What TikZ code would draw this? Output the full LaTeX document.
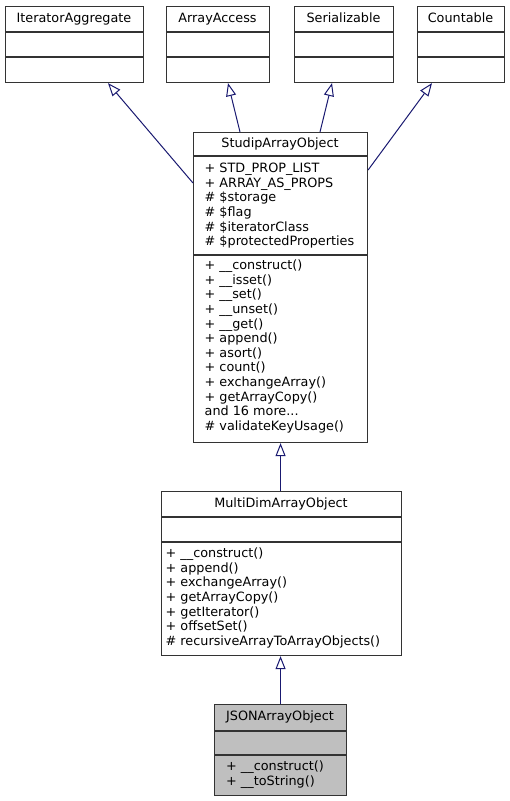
\documentclass[tikz,border=0pt]{standalone}
\usepackage{fontspec}
\setmainfont{DejaVu Sans}
\usetikzlibrary{arrows.meta,calc}
\definecolor{edgeblue}{HTML}{191970}
\definecolor{boxline}{HTML}{333333}
\definecolor{leafgray}{HTML}{BFBFBF}
\newcommand\andmoretext{and 16 more...}
\begin{document}
\begin{tikzpicture}[x=1pt,y=-1pt,
  box/.style={draw=boxline, line width=1.1pt, fill=white, inner sep=0, anchor=north west},
  div/.style={draw=boxline, line width=1.1pt},
  lbl/.style={font=\fontsize{12.8}{14.6}\selectfont, inner sep=0},
  mem/.style={lbl, anchor=mid west},
  ttl/.style={lbl, anchor=mid},
  inh/.style={draw=edgeblue, line width=1pt, -{Triangle[open, length=13pt, width=10pt, fill=white]}},
]
\useasboundingbox (0,0) rectangle (510,801);

% top interfaces
\node[box, minimum width=138pt, minimum height=76pt] (ia) at (5,6) {};
\draw[div] (5,32) -- (143,32) (5,57) -- (143,57);
\node[ttl] (iat) at (74,20) {IteratorAggregate};

\node[box, minimum width=103pt, minimum height=76pt] (aa) at (166,6) {};
\draw[div] (166,32) -- (269,32) (166,57) -- (269,57);
\node[ttl] (aat) at (217.5,20) {ArrayAccess};

\node[box, minimum width=99pt, minimum height=76pt] (se) at (294,6) {};
\draw[div] (294,32) -- (393,32) (294,57) -- (393,57);
\node[ttl] (set) at (343.5,20) {Serializable};

\node[box, minimum width=87pt, minimum height=76pt] (co) at (417,6) {};
\draw[div] (417,32) -- (504,32) (417,57) -- (504,57);
\node[ttl] (cot) at (460.5,20) {Countable};

% StudipArrayObject
\node[box, minimum width=174pt, minimum height=310pt] (sao) at (193,132) {};
\draw[div] (193,156) -- (367,156) (193,255) -- (367,255);
\node[ttl] (saot) at (280,145) {StudipArrayObject};
\foreach [count=\i from 0] \t in {{+ STD\_PROP\_LIST},{+ ARRAY\_AS\_PROPS},{\# \$storage},{\# \$flag},{\# \$iteratorClass},{\# \$protectedProperties}}
  \node[mem] (saoa\i) at (204.5,170+14.6*\i) {\t};
\foreach [count=\i from 0] \t in {{+ \_\_construct()},{+ \_\_isset()},{+ \_\_set()},{+ \_\_unset()},{+ \_\_get()},{+ append()},{+ asort()},{+ count()},{+ exchangeArray()},{+ getArrayCopy()},{\andmoretext},{\# validateKeyUsage()}}
  \node[mem] (saom\i) at (204.5,267+14.6*\i) {\t};

% MultiDimArrayObject
\node[box, minimum width=240pt, minimum height=164pt] (mdao) at (161,491) {};
\draw[div] (161,517) -- (401,517) (161,542) -- (401,542);
\node[ttl] (mdaot) at (281,505) {MultiDimArrayObject};
\foreach [count=\i from 0] \t in {{+ \_\_construct()},{+ append()},{+ exchangeArray()},{+ getArrayCopy()},{+ getIterator()},{+ offsetSet()},{\# recursiveArrayToArrayObjects()}}
  \node[mem] (mdaom\i) at (165.5,555+14.6*\i) {\t};

% JSONArrayObject
\node[box, fill=leafgray, minimum width=132pt, minimum height=91pt] (json) at (214,704) {};
\draw[div] (214,731) -- (346,731) (214,755) -- (346,755);
\node[ttl] (jsont) at (280,718) {JSONArrayObject};
\foreach [count=\i from 0] \t in {{+ \_\_construct()},{+ \_\_toString()}}
  \node[mem] (jsonm\i) at (226,768+14.6*\i) {\t};

% inheritance edges
\draw[inh] ($(sao.north west)+(0,51)$) -- ($(ia.south west)+(103,0)$);
\draw[inh] ($(sao.north west)+(47,0)$) -- ($(aa.south west)+(62,0)$);
\draw[inh] ($(sao.north west)+(127,0)$) -- ($(se.south west)+(38,0)$);
\draw[inh] ($(sao.north east)+(0,38)$) -- ($(co.south west)+(15,0)$);
\draw[inh] (sao.south |- mdao.north) -- (sao.south);
\draw[inh] (json.north) -- (json.north |- mdao.south);
\end{tikzpicture}
\end{document}
